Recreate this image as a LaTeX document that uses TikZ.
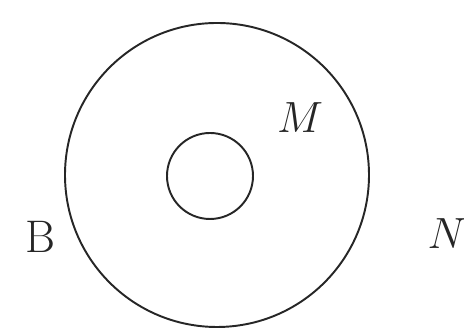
\documentclass[tikz,border=0pt]{standalone}
\usepackage{amsmath,amssymb}

\begin{document}
\begin{tikzpicture}[
		x=0.02cm, y=-0.02cm,
		ring/.style={line width=1.1pt, draw=black!85},
		lbl/.style={inner sep=0pt, font=\fontsize{26}{30}\selectfont, text=black!85}
		]
		
		% ==========================================
		% FRAME
		% ==========================================
		\useasboundingbox (0,0) rectangle (464,333);
		
		% ==========================================
		% THE TWO CIRCLES
		% ==========================================
		\coordinate (O_out) at (217,175);
		\coordinate (O_in) at (210,176);
		\draw[ring] (O_out) circle[radius=152];
		\draw[ring] (O_in) circle[radius=43];
		
		% ==========================================
		% LABELS
		% ==========================================
		\node[lbl] (M) at (300,118) {$M$};
		\node[lbl] (B) at (40,237) {B};
		\node[lbl] (N) at (447,234) {$N$};
		
	\end{tikzpicture}
\end{document}
